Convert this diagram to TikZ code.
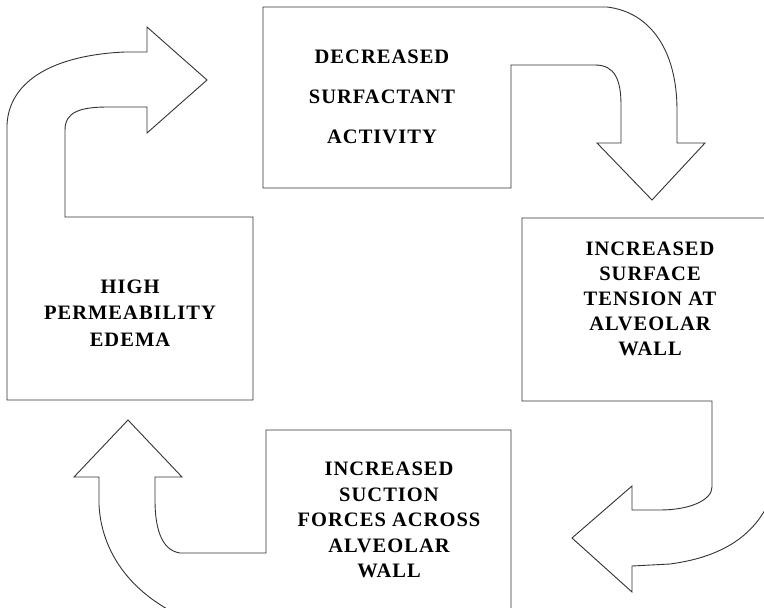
\documentclass[tikz,border=0pt]{standalone}
\usepackage{fontspec}
\newfontfamily\lblfont[LetterSpace=5]{Liberation Serif}
\tikzset{
  outline/.style={draw=black!80, line width=0.9pt, line join=miter, fill=white},
  lbl/.style={align=center, inner sep=0pt, font=\lblfont\bfseries\fontsize{20.5}{25}\selectfont}
}
\begin{document}
\begin{tikzpicture}[x=1pt,y=-1pt]
\useasboundingbox (0,0) rectangle (764,608);
\clip (0,0) rectangle (764,608);
% HIGH PERMEABILITY EDEMA box + arrow
\draw[outline] (7,400) -- (253,400) -- (253,217) -- (65,217) -- (65,130)
  .. controls (65,112) and (80,107) .. (108,107) -- (147,107) -- (147,133)
  -- (207,80) -- (147,27) -- (147,52) -- (125,52)
  .. controls (55,55) and (9,80) .. (7,125) -- cycle;
% DECREASED SURFACTANT ACTIVITY box + arrow
\draw[outline] (263,7) -- (607,7) .. controls (650,12) and (677,50) .. (677,110)
  -- (677,143) -- (705,143) -- (652,200) -- (597,143) -- (621,143) -- (621,105)
  .. controls (621,80) and (615,65) .. (595,65) -- (511,65) -- (511,188) -- (263,188) -- cycle;
% INCREASED SURFACE TENSION box + arrow
\draw[outline] (522,218) -- (772,218) -- (772,495)
  .. controls (755,540) and (715,558) .. (670,564) -- (632,566) -- (632,592)
  -- (572,538) -- (632,486) -- (632,510) -- (660,510)
  .. controls (690,510) and (712,500) .. (712,487) -- (712,401) -- (522,401) -- cycle;
% INCREASED SUCTION FORCES box + arrow
\draw[outline] (266,430) -- (511,430) -- (511,620) -- (190,620)
  .. controls (140,600) and (102,560) .. (99,505) -- (99,477) -- (74,477)
  -- (128,420) -- (182,477) -- (155,477) -- (155,500)
  .. controls (155,525) and (160,550) .. (180,553) -- (266,553) -- cycle;
% labels
\node[lbl, font=\lblfont\bfseries\fontsize{20.5}{40}\selectfont] (dec) at (382,96.5) {DECREASED\\SURFACTANT\\ACTIVITY};
\node[lbl, font=\lblfont\bfseries\fontsize{20.5}{26.5}\selectfont] (high) at (130,313) {HIGH\\PERMEABILITY\\EDEMA};
\node[lbl] (surf) at (650,299) {INCREASED\\SURFACE\\TENSION AT\\ALVEOLAR\\WALL};
\node[lbl, font=\lblfont\bfseries\fontsize{20.5}{25.5}\selectfont] (suct) at (389,520) {INCREASED\\SUCTION\\FORCES ACROSS\\ALVEOLAR\\WALL};
\end{tikzpicture}
\end{document}
